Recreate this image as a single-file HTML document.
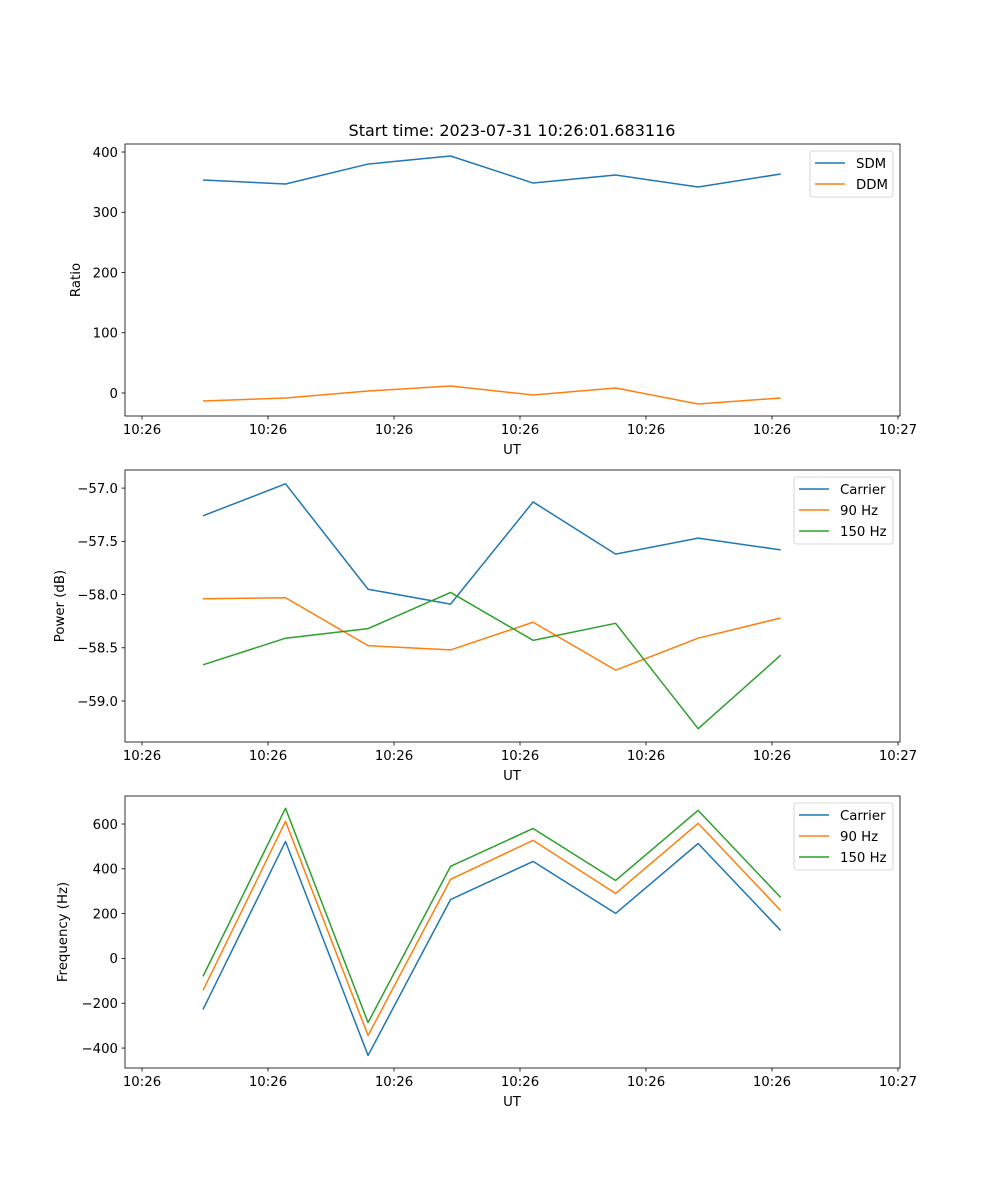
<!DOCTYPE html>
<html><head><meta charset="utf-8"><style>
html,body{margin:0;padding:0;background:#fff;}
svg{display:block;font-family:"DejaVu Sans","Liberation Sans",sans-serif;}
</style></head><body>
<svg id="fig" width="1000" height="1200" xmlns="http://www.w3.org/2000/svg">
<text x="512" y="136" font-size="16" text-anchor="middle">Start time: 2023-07-31 10:26:01.683116</text>
</svg>
<script>
// time offsets (s from 10:26:00)
const times = [4.84, 11.39, 17.94, 24.49, 31.04, 37.59, 44.14, 50.69];
const xTickVals = [0, 10, 20, 30, 40, 50, 60];
const xTickLabels = ["10:26","10:26","10:26","10:26","10:26","10:26","10:27"];
const sdm = [353.5, 346.9, 380, 393.4, 348.5, 361.8, 341.9, 363.5];
const ddm = [-13.3, -8.3, 3.3, 11.6, -3.3, 8.3, -18.3, -8.3];
const powCarrier = [-57.26, -56.96, -57.95, -58.09, -57.13, -57.62, -57.47, -57.58];
const pow90 = [-58.04, -58.03, -58.48, -58.52, -58.26, -58.71, -58.41, -58.22];
const pow150 = [-58.66, -58.41, -58.32, -57.98, -58.43, -58.27, -59.26, -58.57];
const freqCarrier = [-228, 522, -433, 263, 433, 201, 513, 125];
const freq90 = [-143, 612, -344, 353, 527, 290, 603, 214];
const freq150 = [-80, 670, -286, 411, 580, 348, 661, 272];
const ticks1 = [0, 100, 200, 300, 400];
const ticks2 = [-59.0, -58.5, -58.0, -57.5, -57.0];
const ticks3 = [-400, -200, 0, 200, 400, 600];

const NS = "http://www.w3.org/2000/svg";
const svg = document.getElementById('fig');
function mk(tag, attrs, parent){const e=document.createElementNS(NS,tag);for(const k in attrs)e.setAttribute(k,attrs[k]);(parent||svg).appendChild(e);return e;}
const L=125,R=900,XMIN=-1.35,XMAX=60.16;
function xs(v){return L+(v-XMIN)/(XMAX-XMIN)*(R-L);}
const C=['#1f77b4','#ff7f0e','#2ca02c'];
function fmt(v,dec){const s=v.toFixed(dec);return s.replace('-','\u2212');}

function panel(name, top, ymin, ymax, yticks, dec, ylabel, series, names, legend){
  const bot=top+272;
  const g=mk('g',{});
  
  
  const ys=v=>bot-(v-ymin)/(ymax-ymin)*272;
  series.forEach((s,i)=>{
    const p=mk('polyline',{points:s.map((v,j)=>xs(times[j]).toFixed(2)+','+ys(v).toFixed(2)).join(' '),fill:'none',stroke:C[i],'stroke-width':1.5,'stroke-linejoin':'round'},g);
    
    
  });
  mk('rect',{x:L,y:top,width:R-L,height:272,fill:'none',stroke:'#000','stroke-width':0.8},g);
  xTickVals.forEach((v,i)=>{
    const x=xs(v);
    mk('line',{x1:x,x2:x,y1:bot,y2:bot+3.5,stroke:'#000','stroke-width':0.8},g);
    const t=mk('text',{x:x,y:bot+18,'font-size':13.3,'text-anchor':'middle'},g);t.textContent=xTickLabels[i];
    
    
  });
  yticks.forEach(v=>{
    const y=ys(v);
    mk('line',{x1:L-3.5,x2:L,y1:y,y2:y,stroke:'#000','stroke-width':0.8},g);
    const t=mk('text',{x:L-7,y:y+4.8,'font-size':13.3,'text-anchor':'end'},g);t.textContent=fmt(v,dec);
    
    
  });
  const xl=mk('text',{x:512,y:bot+38,'font-size':13.3,'text-anchor':'middle'},g);xl.textContent='UT';
  
  
  const yl=mk('text',{x:0,y:0,'font-size':13.3,'text-anchor':'middle',transform:`translate(${legend.ylx},${top+136}) rotate(-90)`},g);yl.textContent=ylabel;
  
  
  const lg=mk('g',{},g);
  
  
  const lh=names.length*21+4;
  mk('rect',{x:legend.x,y:top+7,width:893-legend.x,height:lh,rx:2.5,fill:'#fff','fill-opacity':0.8,stroke:'#ccc','stroke-width':0.8},lg);
  names.forEach((n,i)=>{
    const y=top+19+i*21;
    mk('line',{x1:legend.x+5,x2:legend.x+35,y1:y,y2:y,stroke:C[i],'stroke-width':1.5},lg);
    const t=mk('text',{x:legend.x+46,y:y+4.8,'font-size':13.3},lg);t.textContent=n;
    
    
  });
}
panel('ratio-panel',144,-38.2,413.3,ticks1,0,'Ratio',[sdm,ddm],['SDM','DDM'],{x:810,ylx:80});
panel('power-panel',470,-59.385,-56.83,ticks2,1,'Power (dB)',[powCarrier,pow90,pow150],['Carrier','90 Hz','150 Hz'],{x:794,ylx:64});
panel('frequency-panel',796,-489,725,ticks3,0,'Frequency (Hz)',[freqCarrier,freq90,freq150],['Carrier','90 Hz','150 Hz'],{x:794,ylx:67});
</script>
</body></html>
